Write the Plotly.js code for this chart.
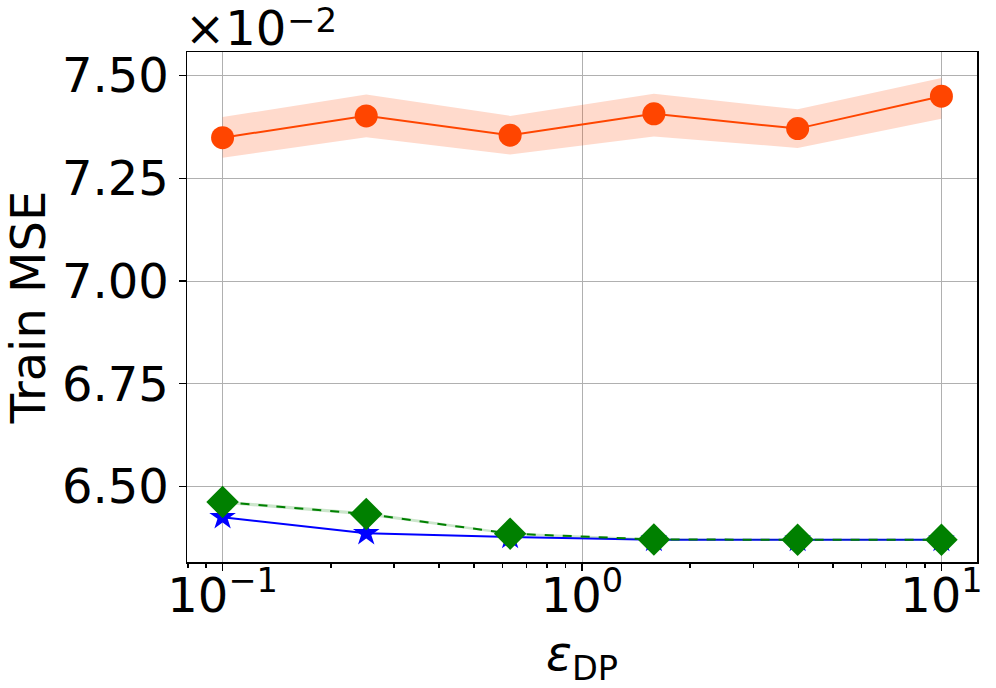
<!DOCTYPE html>
<html>
<head>
<meta charset="utf-8">
<script src="https://cdn.plot.ly/plotly-3.0.1.min.js"></script>
<style>
  body { margin: 0; background: #fff; }
  #plot { width: 996px; height: 688px; }
</style>
</head>
<body>
<div id="plot"></div>
<script>
// epsilon_DP values (log spaced)
const epsDP = [0.1, 0.251, 0.631, 1.585, 3.981, 10];

// train MSE, in units of 1e-2
const orangeMean = [7.349, 7.402, 7.355, 7.407, 7.371, 7.450];
const orangeLow  = [7.300, 7.350, 7.308, 7.352, 7.324, 7.395];
const orangeHigh = [7.399, 7.454, 7.402, 7.456, 7.418, 7.494];

const blueMean = [6.425, 6.386, 6.377, 6.370, 6.370, 6.370];

const greenMean = [6.462, 6.433, 6.385, 6.371, 6.370, 6.370];
const greenLow  = [6.458, 6.429, 6.382, 6.369, 6.368, 6.368];
const greenHigh = [6.466, 6.437, 6.388, 6.373, 6.372, 6.372];

const xTickVals = [0.1, 1, 10];
const xTickText = ['10<sup>\u22121</sup>', '10<sup>0</sup>', '10<sup>1</sup>'];
const yTickVals = [6.50, 6.75, 7.00, 7.25, 7.50];

const font = 'DejaVu Sans, sans-serif';

function band(x, low, high, color) {
    return {
        x: x.concat(x.slice().reverse()),
        y: high.concat(low.slice().reverse()),
        fill: 'toself',
        fillcolor: color,
        line: {width: 0},
        mode: 'lines',
        hoverinfo: 'skip',
        showlegend: false
    };
}

const data = [
    band(epsDP, orangeLow, orangeHigh, 'rgba(255,69,0,0.2)'),
    {
        x: epsDP, y: orangeMean,
        mode: 'lines+markers',
        line: {color: '#ff4500', width: 2},
        marker: {color: '#ff4500', size: 23, symbol: 'circle'}
    },
    {
        x: epsDP, y: blueMean,
        mode: 'lines+markers',
        line: {color: '#0000ff', width: 2},
        marker: {color: '#0000ff', size: 20, symbol: 'star'}
    },
    band(epsDP, greenLow, greenHigh, 'rgba(0,128,0,0.2)'),
    {
        x: epsDP, y: greenMean,
        mode: 'lines+markers',
        line: {color: '#008000', width: 2, dash: 'dash'},
        marker: {color: '#008000', size: 25, symbol: 'diamond'}
    }
];

const layout = {
    width: 996,
    height: 688,
    showlegend: false,
    paper_bgcolor: '#fff',
    plot_bgcolor: '#fff',
    margin: {l: 187, r: 19, t: 52, b: 126},
    font: {family: font, size: 48, color: '#000'},
    xaxis: {
        type: 'log',
        range: [-1.099, 1.099],
        tickmode: 'array',
        tickvals: xTickVals,
        ticktext: xTickText,
        ticks: 'outside',
        ticklen: 7,
        tickwidth: 1.5,
        tickcolor: '#000',
        ticklabelstandoff: -16,
        showgrid: true,
        gridcolor: '#b0b0b0',
        gridwidth: 1,
        showline: true,
        linecolor: '#000',
        linewidth: 1.5,
        mirror: true,
        zeroline: false,
        minor: {dtick: 'D1', ticks: 'outside', ticklen: 4, tickcolor: '#000', showgrid: false},
        title: {text: '<i>\u03b5</i><sub>DP</sub>', font: {size: 48}, standoff: 14}
    },
    yaxis: {
        range: [6.316, 7.5575],
        tickmode: 'array',
        tickvals: yTickVals,
        tickformat: '.2f',
        ticks: 'outside',
        ticklen: 7,
        tickwidth: 1.5,
        tickcolor: '#000',
        showgrid: true,
        gridcolor: '#b0b0b0',
        gridwidth: 1,
        showline: true,
        linecolor: '#000',
        linewidth: 1.5,
        mirror: true,
        zeroline: false,
        title: {text: 'Train MSE', font: {size: 48}, standoff: 10}
    },
    annotations: [
        {
            text: '\u00d710',
            xref: 'paper', yref: 'paper',
            x: 0, y: 1,
            xanchor: 'left', yanchor: 'bottom',
            showarrow: false,
            font: {size: 48},
            xshift: -4, yshift: -6
        },
        {
            text: '\u22122',
            xref: 'paper', yref: 'paper',
            x: 0, y: 1,
            xanchor: 'left', yanchor: 'bottom',
            showarrow: false,
            font: {size: 34},
            xshift: 98, yshift: 10
        }
    ]
};

Plotly.newPlot('plot', data, layout, {staticPlot: true});
</script>
</body>
</html>
